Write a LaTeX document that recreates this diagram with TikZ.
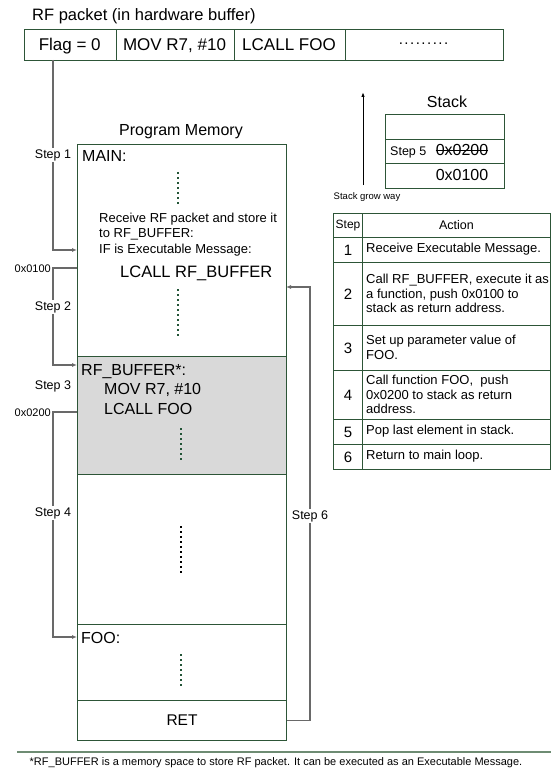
\documentclass[tikz,border=0pt]{standalone}
\usepackage{fontspec}
\setmainfont{Liberation Sans}
\usetikzlibrary{arrows.meta}
\definecolor{boxgreen}{RGB}{45,85,55}
\definecolor{linegray}{RGB}{105,105,105}
\definecolor{shadegray}{RGB}{217,217,217}
\definecolor{dotgreen}{RGB}{35,85,55}
\definecolor{rulegreen}{RGB}{110,140,115}
\begin{document}
\begin{tikzpicture}[x=1pt,y=-1pt,
  cell/.style={draw=boxgreen, line width=1pt, inner sep=0pt, anchor=north west},
  conn/.style={draw=linegray, line width=1.3pt},
  tipped/.style={conn, -{Latex[length=5pt,width=4pt]}},
  steplbl/.style={inner sep=1pt, fill=white, font=\fontsize{12.5}{14}\selectfont},
  addr/.style={inner sep=0pt, anchor=base east, font=\fontsize{11}{13}\selectfont},
  big/.style={inner sep=0pt, anchor=base west, font=\fontsize{16}{19}\selectfont},
  pkt/.style={inner sep=0pt, anchor=base, font=\fontsize{17}{20}\selectfont},
  mid/.style={inner sep=0pt, anchor=base west, font=\fontsize{13}{15.5}\selectfont},
  tnum/.style={font=\fontsize{15}{17}\selectfont},
  ttext/.style={inner sep=0pt, anchor=west, align=left, font=\fontsize{13}{14.7}\selectfont},
  dotsg/.style={draw=dotgreen, line width=1.8pt, dash pattern=on 1.8pt off 3.2pt},
  dotsb/.style={draw=black, line width=1.8pt, dash pattern=on 1.8pt off 3.2pt}
]
\useasboundingbox (0,0) rectangle (551,770);

% ---------- RF packet ----------
\node[inner sep=0pt, anchor=base west, font=\fontsize{16.5}{19}\selectfont] (ptitle) at (32,21) {RF packet (in hardware buffer)};
\node[cell, minimum width=91.5pt, minimum height=31pt] (flag) at (24,29) {};
\node[cell, minimum width=118pt, minimum height=31pt] (pmov) at (115.5,29) {};
\node[cell, minimum width=111pt, minimum height=31pt] (pcall) at (233.5,29) {};
\node[cell, minimum width=158pt, minimum height=31pt] (pdots) at (344.5,29) {};
\node[pkt] (tflag) at (69.75,50.5) {Flag = 0};
\node[pkt] (tpmov) at (174.5,50.5) {MOV R7, \#10};
\node[pkt] (tpcall) at (289,50.5) {LCALL FOO};
\node[inner sep=0pt, anchor=base, font=\fontsize{15}{18}\selectfont\addfontfeature{LetterSpace=10}] (tpdots) at (423.5,45) {.........};

% ---------- Program memory ----------
\node[inner sep=0pt, anchor=base, font=\fontsize{16}{19}\selectfont] (pmtitle) at (181,136) {Program Memory};
\node[cell, minimum width=209pt, minimum height=212pt] (main) at (77,144) {};
\node[cell, fill=shadegray, minimum width=209pt, minimum height=118pt] (rfbuf) at (77,356) {};
\node[cell, minimum width=209pt, minimum height=150pt] (gap) at (77,474) {};
\node[cell, minimum width=209pt, minimum height=76pt] (foo) at (77,624) {};
\node[cell, minimum width=209pt, minimum height=40pt, font=\fontsize{15.5}{18}\selectfont] (ret) at (77,700) {RET};

\node[big] (tmain) at (82,161) {MAIN:};
\draw[dotsg] (178,172) -- (178,204);
\node[mid] (trecv) at (99,222) {Receive RF packet and store it};
\node[mid] (tto) at (99,237) {to RF\_BUFFER:};
\node[mid] (tif) at (99,253) {IF is Executable Message:};
\node[inner sep=0pt, anchor=base west, font=\fontsize{16.5}{20}\selectfont] (tlcall) at (120,277) {LCALL RF\_BUFFER};
\draw[dotsg] (178,289) -- (178,337);

\node[big] (trfb) at (81,375) {RF\_BUFFER*:};
\node[big] (tmov) at (104,394) {MOV R7, \#10};
\node[big] (tlfoo) at (104,414) {LCALL FOO};
\draw[dotsg] (181,428) -- (181,460);

\draw[dotsb] (181,526) -- (181,574);

\node[big] (tfoo) at (81,643) {FOO:};
\draw[dotsg] (181,654) -- (181,686);

% ---------- connectors ----------
\coordinate (s1a) at (53,60);
\coordinate (s1b) at (77,250);
\draw[tipped] (s1a) |- (s1b);
\node[steplbl] (step1) at (53,155) {Step 1};

\coordinate (s2a) at (77,268);
\coordinate (s2b) at (77,365);
\draw[tipped] (s2a) -| (53,290) |- (s2b);
\node[addr] (a0100) at (51,272) {0x0100};
\node[steplbl] (step2) at (53,307) {Step 2};

\node[steplbl] (step3) at (53,386) {Step 3};

\coordinate (s4a) at (77,412);
\coordinate (s4b) at (77,637);
\draw[tipped] (s4a) -| (53,500) |- (s4b);
\node[addr] (a0200) at (51,416) {0x0200};
\node[steplbl] (step4) at (53,513) {Step 4};

\coordinate (s6b) at (286,287);
\draw[tipped] (ret.east) -| (310,500) |- (s6b);
\node[steplbl] (step6) at (310,516) {Step 6};

% ---------- Stack ----------
\coordinate (g0) at (363,185);
\coordinate (g1) at (363,92);
\draw[draw=black, line width=1pt, -{Latex[length=5pt,width=3.5pt]}] (g0) -- (g1);
\node[inner sep=0pt, anchor=base, font=\fontsize{9.5}{11}\selectfont] (tgrow) at (367,199) {Stack grow way};
\node[inner sep=0pt, anchor=base, font=\fontsize{16}{19}\selectfont] (tstack) at (447,108) {Stack};
\node[cell, minimum width=119pt, minimum height=25pt] (st1) at (385,114) {};
\node[cell, minimum width=119pt, minimum height=24pt] (st2) at (385,139) {};
\node[cell, minimum width=119pt, minimum height=25pt] (st3) at (385,163) {};
\node[inner sep=0pt, anchor=base west, font=\fontsize{12.5}{14}\selectfont] (step5) at (390,156) {Step 5};
\node[inner sep=0pt, anchor=base, font=\fontsize{16}{19}\selectfont] (s0200) at (462,156) {0x0200};
\draw[black, line width=0.9pt] ([yshift=5.5pt]s0200.base west) -- ([yshift=5.5pt]s0200.base east);
\node[inner sep=0pt, anchor=base, font=\fontsize{16}{19}\selectfont] (s0100) at (462,181) {0x0100};

% ---------- Table ----------
\node[cell, minimum width=29pt, minimum height=24pt, font=\fontsize{12}{14}\selectfont] (h1) at (333,213) {Step};
\node[cell, minimum width=188pt, minimum height=24pt, font=\fontsize{12.5}{14}\selectfont] (h2) at (362,213) {Action};

\node[cell, minimum width=29pt, minimum height=25pt, tnum] (r1a) at (333,237) {1};
\node[cell, minimum width=188pt, minimum height=25pt] (r1b) at (362,237) {};
\node[ttext] (r1t) at (366,249.5) {Receive Executable Message.};

\node[cell, minimum width=29pt, minimum height=63pt, tnum] (r2a) at (333,262) {2};
\node[cell, minimum width=188pt, minimum height=63pt] (r2b) at (362,262) {};
\node[ttext] (r2t) at (366,293.5) {Call RF\_BUFFER, execute it as\\a function, push 0x0100 to\\stack as return address.};

\node[cell, minimum width=29pt, minimum height=45pt, tnum] (r3a) at (333,325) {3};
\node[cell, minimum width=188pt, minimum height=45pt] (r3b) at (362,325) {};
\node[ttext] (r3t) at (366,347.5) {Set up parameter value of\\FOO.};

\node[cell, minimum width=29pt, minimum height=49pt, tnum] (r4a) at (333,370) {4};
\node[cell, minimum width=188pt, minimum height=49pt] (r4b) at (362,370) {};
\node[ttext] (r4t) at (366,394.5) {Call function FOO,~ push\\0x0200 to stack as return\\address.};

\node[cell, minimum width=29pt, minimum height=25pt, tnum] (r5a) at (333,419) {5};
\node[cell, minimum width=188pt, minimum height=25pt] (r5b) at (362,419) {};
\node[ttext] (r5t) at (366,431.5) {Pop last element in stack.};

\node[cell, minimum width=29pt, minimum height=25pt, tnum] (r6a) at (333,444) {6};
\node[cell, minimum width=188pt, minimum height=25pt] (r6b) at (362,444) {};
\node[ttext] (r6t) at (366,456.5) {Return to main loop.};

% ---------- footnote ----------
\coordinate (fl0) at (17,752);
\coordinate (fl1) at (551,752);
\draw[rulegreen, line width=1.2pt] (fl0) -- (fl1);
\node[inner sep=0pt, anchor=base, font=\fontsize{11}{13}\selectfont] (fnote) at (276,765) {*RF\_BUFFER is a memory space to store RF packet. It can be executed as an Executable Message.};
\end{tikzpicture}
\end{document}
